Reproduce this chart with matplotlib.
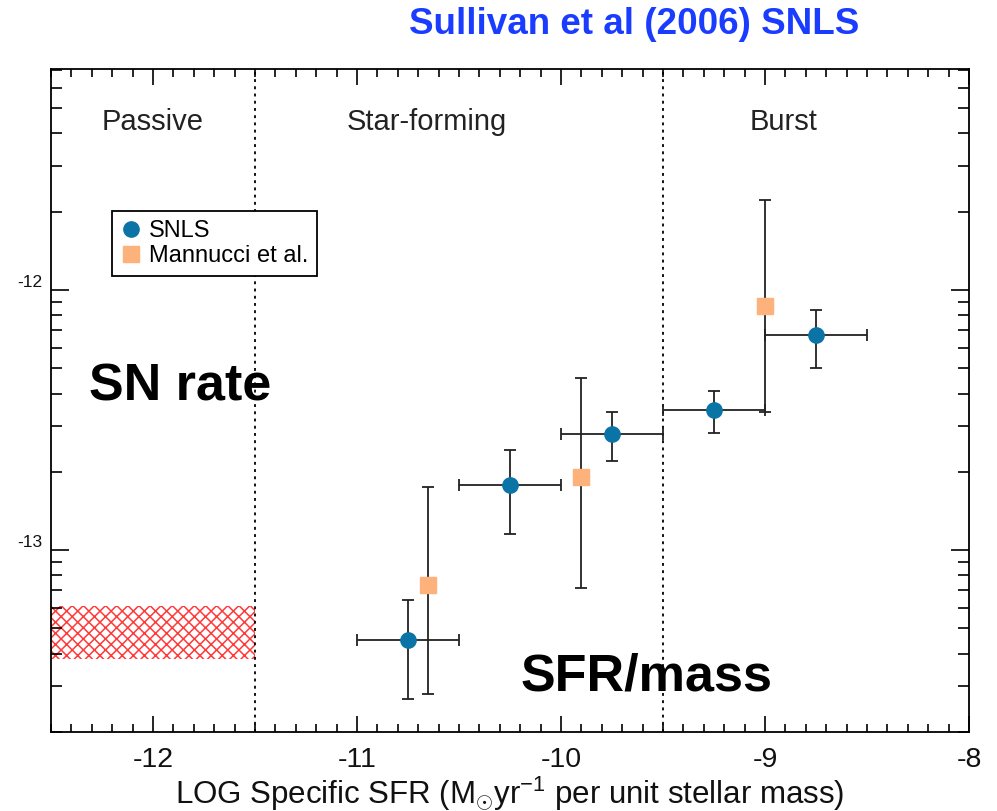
import matplotlib
matplotlib.use("Agg")
import matplotlib.pyplot as plt
from matplotlib.lines import Line2D
from matplotlib.ticker import FixedLocator, MultipleLocator, LogLocator, NullFormatter
import numpy as np

# ---------------- data ----------------
snls_x = [-10.75, -10.25, -9.75, -9.25, -8.75]
snls_xlo = [-11.0, -10.5, -10.0, -9.5, -9.0]
snls_xhi = [-10.5, -10.0, -9.5, -9.0, -8.5]
snls_y = [4.53e-14, 1.78e-13, 2.79e-13, 3.45e-13, 6.72e-13]
snls_ylo = [2.69e-14, 1.15e-13, 2.20e-13, 2.81e-13, 5.03e-13]
snls_yhi = [6.41e-14, 2.42e-13, 3.40e-13, 4.09e-13, 8.38e-13]

mann_x = [-10.65, -9.9, -9.0]
mann_y = [7.33e-14, 1.91e-13, 8.68e-13]
mann_ylo = [2.79e-14, 7.13e-14, 3.40e-13]
mann_yhi = [1.75e-13, 4.59e-13, 2.22e-12]

passive_x = [-12.5, -11.5]
passive_ylo = 3.8e-14
passive_yhi = 6.1e-14

region_bounds = [-11.5, -9.5]
region_names = ["Passive", "Star-forming", "Burst"]
region_text_x = [-12.0, -10.66, -8.91]

xticks = [-12, -11, -10, -9, -8]
xticklabels = ["-12", "-11", "-10", "-9", "-8"]
yticks = [1e-13, 1e-12]
yticklabels = ["-13", "-12"]

# ---------------- figure ----------------
plt.rcParams['font.family'] = ['Liberation Sans', 'DejaVu Sans']
plt.rcParams['mathtext.fontset'] = 'custom'
plt.rcParams['mathtext.rm'] = 'Liberation Sans'
plt.rcParams['mathtext.it'] = 'Liberation Sans:italic'
plt.rcParams['hatch.linewidth'] = 1.1

W, H = 997, 811
fig = plt.figure(figsize=(W / 100, H / 100), dpi=100)
ax = fig.add_axes([51 / W, (H - 732) / H, 918 / W, 663 / H])

ax.set_yscale('log')
ax.set_xlim(-12.5, -8)
ax.set_ylim(2.0e-14, 7.08e-12)

# passive hatched region
ax.fill_between(passive_x, passive_ylo, passive_yhi, facecolor='none',
                edgecolor='#ff3a3a', hatch='xxx', linewidth=0, zorder=1)

# dotted region dividers
for xb in region_bounds:
    ax.axvline(xb, color='black', lw=1.3, linestyle=(0, (1.6, 2.4)), zorder=1)

ecol = '#222222'
sx = np.array(snls_x)
sy = np.array(snls_y)
xerr = [sx - np.array(snls_xlo), np.array(snls_xhi) - sx]
yerr = [sy - np.array(snls_ylo), np.array(snls_yhi) - sy]
ax.errorbar(sx, sy, xerr=xerr, yerr=yerr, fmt='none', ecolor=ecol,
            elinewidth=1.3, capsize=4.5, capthick=1.3, zorder=2)

mx = np.array(mann_x)
my = np.array(mann_y)
myerr = [my - np.array(mann_ylo), np.array(mann_yhi) - my]
ax.errorbar(mx, my, yerr=myerr, fmt='none', ecolor=ecol,
            elinewidth=1.3, capsize=4.5, capthick=1.3, zorder=2)

snls_color = '#0a74a6'
mann_color = '#fdb27c'
ax.plot(sx, sy, 'o', ms=11, color=snls_color, mec=snls_color, zorder=4, lw=0)
ax.plot(mx, my, 's', ms=11, color=mann_color, mec=mann_color, zorder=3, lw=0)

# ticks
ax.xaxis.set_major_locator(FixedLocator(xticks))
ax.set_xticklabels(xticklabels)
ax.xaxis.set_minor_locator(MultipleLocator(0.1))
ax.yaxis.set_major_locator(FixedLocator(yticks))
ax.set_yticklabels(yticklabels)
ax.yaxis.set_minor_locator(LogLocator(base=10, subs=np.arange(2, 10)))
ax.yaxis.set_minor_formatter(NullFormatter())

ax.tick_params(axis='both', which='both', direction='in', top=True, right=True,
               color='black', width=1.2)
ax.tick_params(axis='x', which='major', length=11.5, pad=11, labelsize=20.5,
               labelcolor='#111111')
ax.tick_params(axis='x', which='minor', length=5.5)
ax.tick_params(axis='y', which='major', length=13, pad=6, labelsize=12.5,
               labelcolor='#111111')
ax.tick_params(axis='y', which='minor', length=8)
for lab in ax.get_yticklabels():
    lab.set_va('bottom')

for s in ax.spines.values():
    s.set_linewidth(1.3)
    s.set_color('black')

ax.set_xlabel(r'LOG Specific SFR (M$_{\odot}$yr$^{-1}$ per unit stellar mass)',
              fontsize=22.5, labelpad=1, color='#111111')

# region names
for name, xt in zip(region_names, region_text_x):
    ax.text(xt, 0.92, name, transform=ax.get_xaxis_transform(), ha='center',
            va='center', fontsize=21, color='#222222')

ax.text(0.1405, 0.5204, 'SN rate', transform=ax.transAxes, ha='center',
        va='center', fontsize=37.5, fontweight='bold', color='black')
ax.text(0.649, 0.083, 'SFR/mass', transform=ax.transAxes, ha='center',
        va='center', fontsize=37.5, fontweight='bold', color='black')

fig.text(634 / W, 1 - 25 / H, 'Sullivan et al (2006) SNLS', ha='center',
         va='center', fontsize=26.5, fontweight='bold', color='#1a3cff')

# legend
handles = [Line2D([], [], marker='o', ls='none', ms=11, color=snls_color),
           Line2D([], [], marker='s', ls='none', ms=11, color=mann_color)]
leg = ax.legend(handles, ['SNLS', 'Mannucci et al.'], loc='upper left',
                bbox_to_anchor=((112 - 51) / 918, (732 - 211) / 663),
                borderaxespad=0, fancybox=False, framealpha=1,
                edgecolor='black', fontsize=17, handlelength=0.8,
                handletextpad=0.35, borderpad=0.4, labelspacing=0.1)
leg.get_frame().set_linewidth(1.3)

fig.savefig('out.png', dpi=100)
